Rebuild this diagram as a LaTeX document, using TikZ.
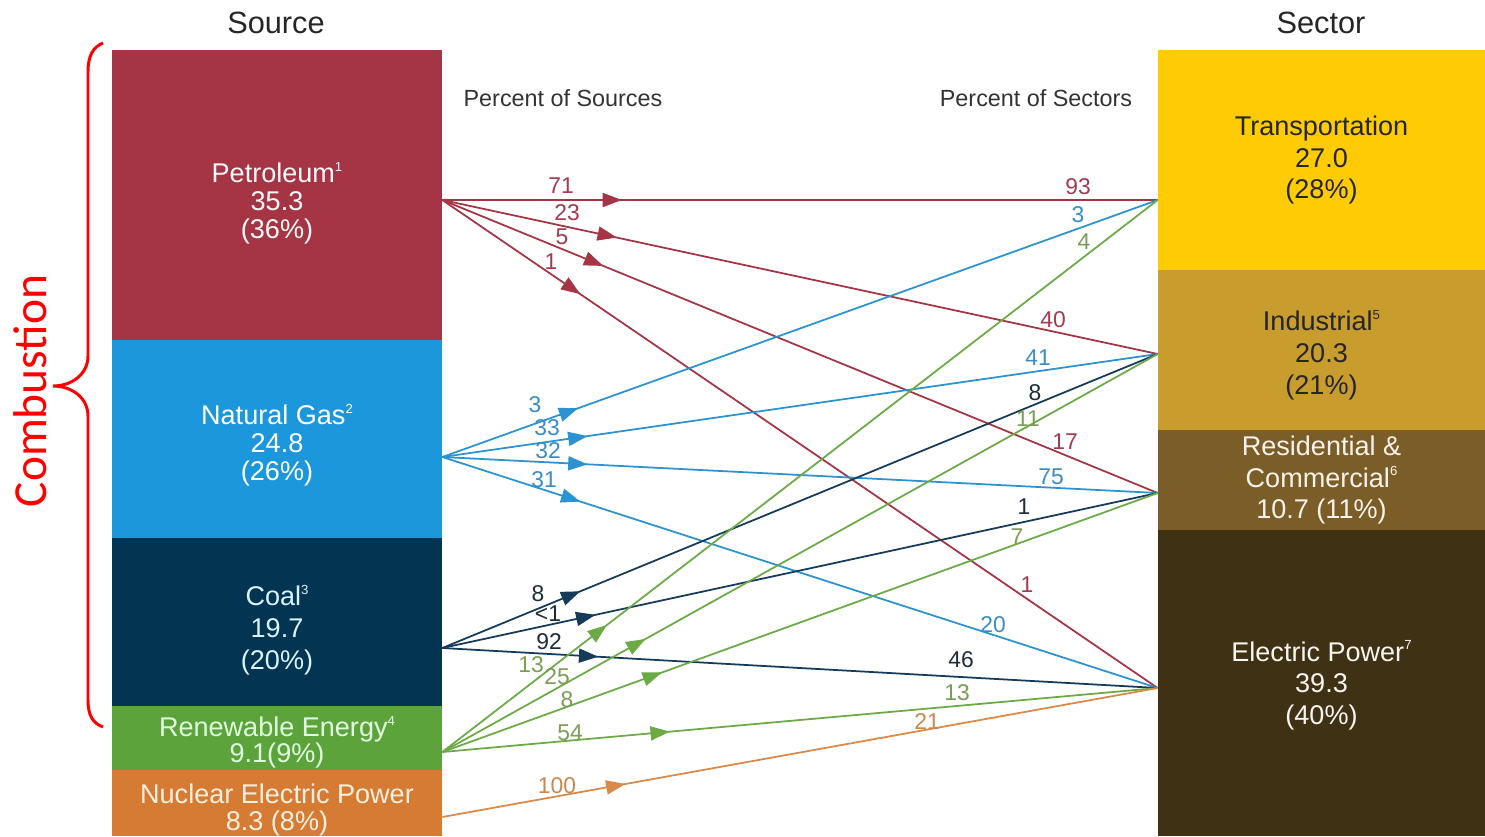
\documentclass[tikz,border=0pt]{standalone}
\usepackage{fontspec}
\setmainfont{Liberation Sans}
\newfontfamily\carl{Carlito}
\usetikzlibrary{arrows.meta,decorations.markings}
\definecolor{cpet}{HTML}{A53444}
\definecolor{cgas}{HTML}{1C97DB}
\definecolor{ccoal}{HTML}{033553}
\definecolor{cren}{HTML}{5DA33C}
\definecolor{cnuc}{HTML}{D57B33}
\definecolor{ctr}{HTML}{FFCB05}
\definecolor{cind}{HTML}{C99C2E}
\definecolor{cres}{HTML}{7B5E27}
\definecolor{cel}{HTML}{3F3114}
\definecolor{lpet}{HTML}{A33A50}
\definecolor{lgas}{HTML}{3A8CC8}
\definecolor{lcoal}{HTML}{1E2C3A}
\definecolor{lren}{HTML}{7A9E55}
\definecolor{lnuc}{HTML}{C8884E}
\definecolor{fgas}{HTML}{2B93D1}
\definecolor{fcoal}{HTML}{153A5A}
\definecolor{fren}{HTML}{6BAA45}
\definecolor{fnuc}{HTML}{D98A4A}
\newcommand\supn[1]{\raisebox{0.8ex}{\fontsize{7.5}{7.5}\selectfont #1}}
\tikzset{
  boxn/.style={rectangle, inner sep=0pt},
  srcbox/.style={boxn, minimum width=6.6cm},
  secbox/.style={boxn, minimum width=6.54cm},
  btxt/.style={inner sep=0pt, align=center},
  flow/.style={line width=1pt, postaction={decorate},
    decoration={markings, mark=at position #1 with {\arrow{Triangle[length=11pt,width=8pt]}}}},
  pl/.style={font=\fontsize{13}{13}\selectfont, inner sep=0pt},
  ttl/.style={font=\fontsize{17.5}{17.5}\selectfont, text=black!85},
  sub/.style={font=\fontsize{13.3}{13.3}\selectfont, text=black!80},
}
\begin{document}
\begin{tikzpicture}[x=0.02cm,y=-0.02cm]
\useasboundingbox (0,0) rectangle (1485,836);
\fill[white] (0,0) rectangle (1485,836);

% titles
\node[ttl] (tsrc) at (276,23) {Source};
\node[ttl] (tsec) at (1321,23) {Sector};
\node[sub] (psrc) at (563,98) {Percent of Sources};
\node[sub] (psec) at (1036,98) {Percent of Sectors};

% source boxes
\node[srcbox, fill=cpet, minimum height=5.8cm] (pet) at (277,195) {};
\node[srcbox, fill=cgas, minimum height=3.96cm] (gas) at (277,439) {};
\node[srcbox, fill=ccoal, minimum height=3.36cm] (coal) at (277,622) {};
\node[srcbox, fill=cren, minimum height=1.28cm] (ren) at (277,738) {};
\node[srcbox, fill=cnuc, minimum height=1.32cm] (nuc) at (277,803) {};
\node[btxt, text={white!92!pink}, font=\fontsize{15.4}{15.9}\selectfont]
  (petT) at ([yshift=-0.16cm]pet.center) {Petroleum\supn{1}\\35.3\\(36\%)};
\node[btxt, text=white, font=\fontsize{15.4}{15.9}\selectfont]
  (gasT) at ([yshift=-0.12cm]gas.center) {Natural Gas\supn{2}\\24.8\\(26\%)};
\node[btxt, text={white!85!cyan}, font=\fontsize{15.4}{18.1}\selectfont]
  (coalT) at ([yshift=-0.16cm]coal.center) {Coal\supn{3}\\19.7\\(20\%)};
\node[btxt, text={white!88!green}, font=\fontsize{15.4}{14.7}\selectfont]
  (renT) at ([yshift=-0.08cm]ren.center) {Renewable Energy\supn{4}\\9.1(9\%)};
\node[btxt, text={white!88!orange}, font=\fontsize{15.4}{15.9}\selectfont]
  (nucT) at ([yshift=-0.14cm]nuc.center) {Nuclear Electric Power\\8.3 (8\%)};

% sector boxes
\node[secbox, fill=ctr, minimum height=4.4cm] (tr) at (1321.5,160) {};
\node[secbox, fill=cind, minimum height=3.2cm] (ind) at (1321.5,350) {};
\node[secbox, fill=cres, minimum height=2cm] (res) at (1321.5,480) {};
\node[secbox, fill=cel, minimum height=6.12cm] (el) at (1321.5,683) {};
\node[btxt, text=black!85, font=\fontsize{15.4}{18.1}\selectfont]
  (trT) at (tr.center) {Transportation\\27.0\\(28\%)};
\node[btxt, text=black!85, font=\fontsize{15.4}{18.1}\selectfont]
  (indT) at ([yshift=-0.1cm]ind.center) {Industrial\supn{5}\\20.3\\(21\%)};
\node[btxt, text={white!90!brown}, font=\fontsize{15.4}{18.1}\selectfont]
  (resT) at (res.center) {Residential \&\\Commercial\supn{6}\\10.7 (11\%)};
\node[btxt, text={white!92!brown}, font=\fontsize{15.4}{18.1}\selectfont]
  (elT) at ([yshift=-0.05cm]el.center) {Electric Power\supn{7}\\39.3\\(40\%)};

% connection points
\coordinate (oPet) at (pet.east |- 0,200);
\coordinate (oGas) at (gas.east |- 0,457);
\coordinate (oCoal) at (coal.east |- 0,648);
\coordinate (oRen) at (ren.east |- 0,752);
\coordinate (oNuc) at (nuc.east |- 0,817);
\coordinate (iTr) at (tr.west |- 0,200);
\coordinate (iInd) at (ind.west |- 0,354);
\coordinate (iRes) at (res.west |- 0,493);
\coordinate (iEl) at (el.west |- 0,688);

% flows
\draw[flow=0.251, cpet] (oPet) -- (iTr);
\draw[flow=0.244, cpet] (oPet) -- (iInd);
\draw[flow=0.225, cpet] (oPet) -- (iRes);
\draw[flow=0.193, cpet] (oPet) -- (iEl);
\draw[flow=0.19, fgas] (oGas) -- (iTr);
\draw[flow=0.203, fgas] (oGas) -- (iInd);
\draw[flow=0.203, fgas] (oGas) -- (iRes);
\draw[flow=0.193, fgas] (oGas) -- (iEl);
\draw[flow=0.193, fcoal] (oCoal) -- (iInd);
\draw[flow=0.214, fcoal] (oCoal) -- (iRes);
\draw[flow=0.218, fcoal] (oCoal) -- (iEl);
\draw[flow=0.23, fren] (oRen) -- (iTr);
\draw[flow=0.284, fren] (oRen) -- (iInd);
\draw[flow=0.307, fren] (oRen) -- (iRes);
\draw[flow=0.318, fren] (oRen) -- (iEl);
\draw[flow=0.256, fnuc] (oNuc) -- (iEl);

% petroleum labels
\node[pl, text=lpet] (a1) at (561,186) {71};
\node[pl, text=lpet] (a2) at (567,213) {23};
\node[pl, text=lpet] (a3) at (562,237) {5};
\node[pl, text=lpet] (a4) at (551,262) {1};
\node[pl, text=lpet] (b1) at (1078,187) {93};
\node[pl, text=lpet] (b2) at (1053,320) {40};
\node[pl, text=lpet] (b3) at (1065,442) {17};
\node[pl, text=lpet] (b4) at (1027,585) {1};
% gas labels
\node[pl, text=lgas] (c1) at (535,405) {3};
\node[pl, text=lgas] (c2) at (547,428) {33};
\node[pl, text=lgas] (c3) at (548,451) {32};
\node[pl, text=lgas] (c4) at (544,480) {31};
\node[pl, text=lgas] (d1) at (1078,215) {3};
\node[pl, text=lgas] (d2) at (1038,358) {41};
\node[pl, text=lgas] (d3) at (1051,477) {75};
\node[pl, text=lgas] (d4) at (993,625) {20};
% coal labels
\node[pl, text=lcoal] (e1) at (538,594) {8};
\node[pl, text=lcoal] (e2) at (548,614) {<1};
\node[pl, text=lcoal] (e3) at (549,642) {92};
\node[pl, text=lcoal] (f1) at (1035,393) {8};
\node[pl, text=lcoal] (f2) at (1024,507) {1};
\node[pl, text=lcoal] (f3) at (961,660) {46};
% renewable labels
\node[pl, text=lren] (g1) at (531,665) {13};
\node[pl, text=lren] (g2) at (557,677) {25};
\node[pl, text=lren] (g3) at (567,700) {8};
\node[pl, text=lren] (g4) at (570,733) {54};
\node[pl, text=lren] (h1) at (1084,242) {4};
\node[pl, text=lren] (h2) at (1028,419) {11};
\node[pl, text=lren] (h3) at (1017,537) {7};
\node[pl, text=lren] (h4) at (957,693) {13};
% nuclear labels
\node[pl, text=lnuc] (n1) at (557,786) {100};
\node[pl, text=lnuc] (n2) at (927,722) {21};

% combustion brace
\draw[red, line width=1.7pt] (103,43) .. controls (93,47) and (88,56) .. (88,72)
  -- (88,356) .. controls (88,374) and (72,386) .. (53,386)
  .. controls (72,386) and (88,398) .. (88,416)
  -- (88,700) .. controls (88,716) and (93,723) .. (103,727);
\node[rotate=90, text=red, font=\carl\fontsize{27}{27}\selectfont, inner sep=0pt] (comb) at (30,391) {Combustion};
\end{tikzpicture}
\end{document}
